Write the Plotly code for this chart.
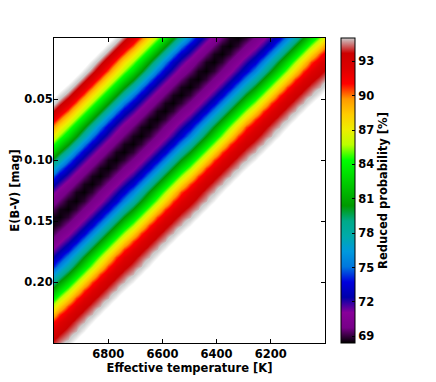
import plotly.graph_objects as go

# Grid of the map: effective temperature (K) columns and E(B-V) (mag) rows
teff = [7010, 6980, 6950, 6920, 6890, 6860, 6830, 6800, 6770, 6740, 6710, 6680,
        6650, 6620, 6590, 6560, 6530, 6500, 6470, 6440, 6410, 6380, 6350, 6320,
        6290, 6260, 6230, 6200, 6170, 6140, 6110, 6080, 6050, 6020, 5990]
ebv = [0.0, 0.00666, 0.01332, 0.01998, 0.02664, 0.0333, 0.03996, 0.04662,
       0.05328, 0.05994, 0.0666, 0.07326, 0.07992, 0.08658, 0.09324, 0.0999,
       0.10656, 0.11322, 0.11988, 0.12654, 0.1332, 0.13986, 0.14652, 0.15318,
       0.15984, 0.1665, 0.17316, 0.17982, 0.18648, 0.19314, 0.1998, 0.20646,
       0.21312, 0.21978, 0.22644, 0.2331, 0.23976, 0.24642, 0.25308]

# Reduced probability (%) read across the diagonal valley, one value per grid
# diagonal, from the cool/low-reddening corner to the hot/high-reddening one.
# None = no models there (blank part of the plot)
cross_section = [None, None, None, None, None,
                 100.8, 99.2, 97.6, 95.9, 94.3, 92.6, 90.3, 87.7, 85.4, 83.1,
                 80.6, 78.0, 75.3, 73.1, 71.8, 70.5, 69.55, 68.65, 68.44, 68.9,
                 69.86, 70.75, 71.95, 73.3, 75.46, 77.8, 80.4, 82.95, 85.45,
                 88.07, 90.5, 92.17, 93.37, 94.16, 94.87, 96.3, 97.9, 99.6, 101.2,
                 None, None, None, None, None, None, None, None, None, None,
                 None, None, None, None, None, None, None, None, None, None,
                 None, None, None, None, None, None, None, None, None]

cbar_ticks = [69, 72, 75, 78, 81, 84, 87, 90, 93]

# matplotlib "nipy_spectral"
spectral = [
    [0.00, "rgb(0,0,0)"], [0.05, "rgb(119,0,136)"], [0.10, "rgb(136,0,153)"],
    [0.15, "rgb(0,0,170)"], [0.20, "rgb(0,0,221)"], [0.25, "rgb(0,119,221)"],
    [0.30, "rgb(0,153,221)"], [0.35, "rgb(0,170,170)"], [0.40, "rgb(0,170,136)"],
    [0.45, "rgb(0,153,0)"], [0.50, "rgb(0,187,0)"], [0.55, "rgb(0,221,0)"],
    [0.60, "rgb(0,255,0)"], [0.65, "rgb(187,255,0)"], [0.70, "rgb(238,238,0)"],
    [0.75, "rgb(255,204,0)"], [0.80, "rgb(255,153,0)"], [0.85, "rgb(255,0,0)"],
    [0.90, "rgb(221,0,0)"], [0.95, "rgb(204,0,0)"], [1.00, "rgb(204,204,204)"],
]

# probability is constant along the valley, so each row is the cross-section
# moved on by one column
z = [[cross_section[i + j] for j in range(len(teff))] for i in range(len(ebv))]

font = dict(family="DejaVu Sans", size=11.5, color="black", weight="bold")

fig = go.Figure()
fig.add_trace(go.Heatmap(
    x=teff, y=ebv, z=z, zmin=68.4, zmax=95.05, zsmooth="best",
    colorscale=spectral,
    colorbar=dict(
        x=1.059, xanchor="left", xpad=0, ypad=0, y=0.5, yanchor="middle",
        len=1, thickness=14, outlinecolor="black", outlinewidth=1,
        tickvals=cbar_ticks, ticks="inside", ticklen=3, tickcolor="black",
        tickfont=font,
        title=dict(text="Reduced probability [%]", side="right", font=font),
    ),
))
# fade the outermost models to white, like the sparse edge of the cloud
fig.add_trace(go.Heatmap(
    x=teff, y=ebv, z=z, zmin=95.2, zmax=96.6, zsmooth="best",
    colorscale=[[0, "rgba(255,255,255,0)"], [1, "rgba(255,255,255,1)"]],
    showscale=False, hoverinfo="skip",
))

axis_style = dict(
    ticks="inside", ticklen=4, tickcolor="black", showline=True,
    linecolor="black", linewidth=1, mirror="ticks", showgrid=False,
    zeroline=False, tickfont=font,
)
fig.update_xaxes(range=[7000, 6000], tickvals=[6800, 6600, 6400, 6200],
                 title=dict(text="Effective temperature [K]", font=font, standoff=1),
                 **axis_style)
fig.update_yaxes(range=[0.25, 0], tickvals=[0.05, 0.10, 0.15, 0.20],
                 tickformat=".2f", ticklabelstandoff=-2,
                 title=dict(text="E(B-V) [mag]", font=font, standoff=2),
                 **axis_style)

# the page body adds 8 px on the left and top, so the margins absorb it
fig.update_layout(
    width=436, height=382,
    margin=dict(l=46, r=119, t=30, b=47, autoexpand=False),
    paper_bgcolor="white", plot_bgcolor="white",
    font=font, showlegend=False,
)

fig.write_html("out.html")
